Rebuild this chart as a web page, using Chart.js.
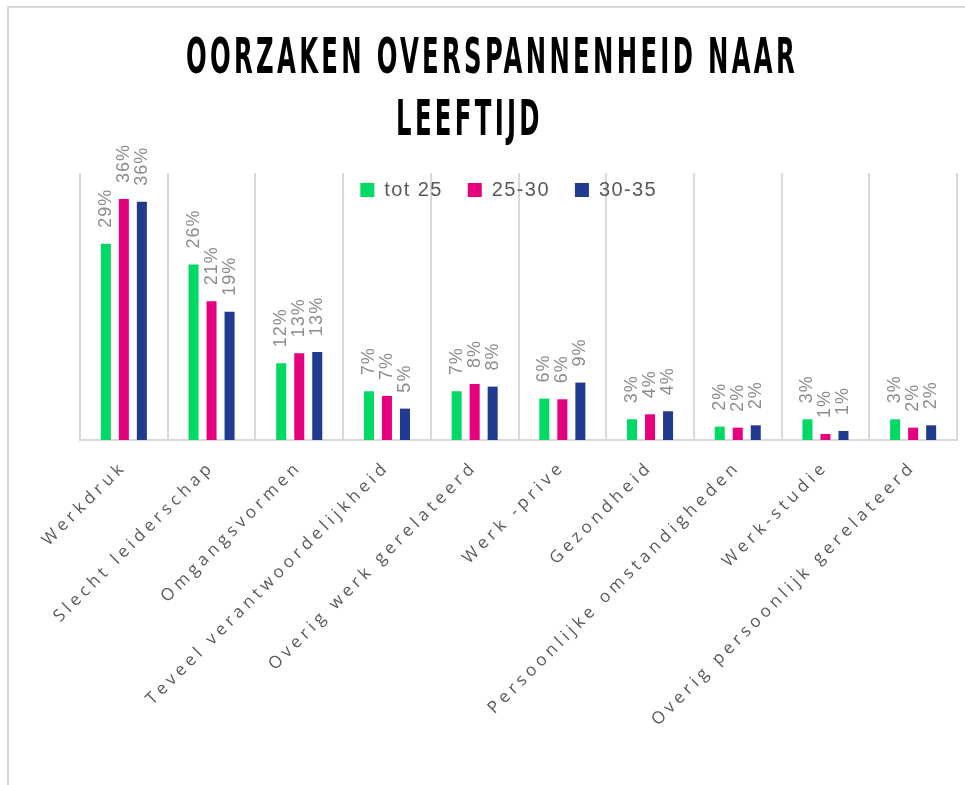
<!DOCTYPE html>
<html>
<head>
<meta charset="utf-8">
<script src="https://cdn.jsdelivr.net/npm/chart.js@4.4.0/dist/chart.umd.min.js"></script>
<style>
html, body { margin: 0; padding: 0; background: #fff; overflow: hidden; }
#frame { position: absolute; left: 7px; top: 6px; width: 980px; height: 800px;
         border-left: 2px solid #d9d9d9; border-top: 2px solid #d9d9d9; }
#wrap { position: absolute; left: 0; top: 0; width: 965px; height: 785px; }
</style>
</head>
<body>
<div id="frame"></div>
<div id="wrap"><canvas id="chart"></canvas></div>
<script>
const categories = ['Werkdruk', 'Slecht leiderschap', 'Omgangsvormen', 'Teveel verantwoordelijkheid',
  'Overig werk gerelateerd', 'Werk -prive', 'Gezondheid', 'Persoonlijke omstandigheden',
  'Werk-studie', 'Overig persoonlijk gerelateerd'];
const seriesNames = ['tot 25', '25-30', '30-35'];
// percentages
const tot25 = [29.4, 26.3, 11.5, 7.3, 7.3, 6.2, 3.1, 2.0, 3.1, 3.1];
const age2530 = [36.1, 20.8, 13.0, 6.6, 8.4, 6.1, 3.85, 1.85, 0.9, 1.85];
const age3035 = [35.7, 19.2, 13.2, 4.7, 8.0, 8.6, 4.3, 2.2, 1.35, 2.2];
const colors = ['#00D963', '#E6007E', '#1F3A8E'];
const titleLines = ['OORZAKEN OVERSPANNENHEID NAAR', 'LEEFTIJD'];

// legend sits inside the plot, labels above bars, custom title
const extras = {
  id: 'extras',
  beforeLayout(chart) {
    const lg = chart.legend;
    if (lg && !lg._noSpace) {
      const fit = lg.fit;
      lg.fit = function () { fit.call(this); this._realHeight = this.height; this.height = 0; };
      lg._noSpace = true;
    }
  },
  afterLayout(chart) {
    const lg = chart.legend;
    lg.top = 155;
    lg.bottom = lg.top + (lg._realHeight || 0);
    lg.left -= 21;
    lg.right -= 21;
  },
  beforeDraw(chart) {
    chart.ctx.letterSpacing = '1.4px'; // legend text
  },
  afterDatasetsDraw(chart) {
    const ctx = chart.ctx;
    ctx.save();
    ctx.font = '18px "Liberation Sans", Arial, sans-serif';
    ctx.fillStyle = '#8c8c8c';
    ctx.letterSpacing = '1px';
    ctx.textAlign = 'left';
    ctx.textBaseline = 'middle';
    chart.data.datasets.forEach((ds, di) => {
      chart.getDatasetMeta(di).data.forEach((bar, i) => {
        ctx.save();
        ctx.translate(bar.x, bar.y - 16);
        ctx.rotate(-Math.PI / 2);
        ctx.fillText(Math.round(ds.data[i]) + '%', 0, 0);
        ctx.restore();
      });
    });
    ctx.restore();
    ctx.letterSpacing = '4.2px'; // x tick labels are drawn next (ticks.z = 1)
  },
  afterDraw(chart) {
    const ctx = chart.ctx;
    ctx.save();
    ctx.font = 'bold 49px "Liberation Sans Narrow", "DejaVu Sans Condensed", sans-serif';
    ctx.letterSpacing = '6px';
    ctx.fillStyle = '#000';
    ctx.textAlign = 'center';
    ctx.textBaseline = 'alphabetic';
    const sx = 612 / ctx.measureText(titleLines[0]).width;
    ctx.save();
    ctx.translate(492, 73);
    ctx.scale(sx, 1);
    ctx.fillText(titleLines[0], 0, 0);
    ctx.restore();
    ctx.save();
    ctx.translate(469.5, 135);
    ctx.scale(sx, 1);
    ctx.fillText(titleLines[1], 0, 0);
    ctx.restore();
    ctx.restore();
    ctx.letterSpacing = '0px';
  }
};

new Chart(document.getElementById('chart'), {
  type: 'bar',
  data: {
    labels: categories,
    datasets: [
      { label: seriesNames[0], data: tot25, backgroundColor: colors[0] },
      { label: seriesNames[1], data: age2530, backgroundColor: colors[1] },
      { label: seriesNames[2], data: age3035, backgroundColor: colors[2] }
    ]
  },
  options: {
    responsive: true,
    maintainAspectRatio: false,
    animation: false,
    layout: { padding: { left: 80, right: 8, top: 173, bottom: 0 } },
    datasets: { bar: { categoryPercentage: 0.616, barPercentage: 0.556 } },
    plugins: {
      legend: {
        position: 'top',
        fullSize: false,
        align: 'center',
        labels: {
          boxWidth: 14,
          boxHeight: 14,
          padding: 25,
          color: '#595959',
          font: { family: '"Liberation Sans", Arial, sans-serif', size: 20 }
        }
      },
      tooltip: { enabled: false }
    },
    scales: {
      x: {
        grid: { color: '#d9d9d9', lineWidth: 2, drawTicks: false, offset: true },
        border: { color: '#d9d9d9', width: 2 },
        ticks: {
          z: 1,
          autoSkip: false,
          minRotation: 45,
          maxRotation: 45,
          padding: 17,
          color: '#595959',
          font: { family: '"Open Sans", sans-serif', size: 17 }
        },
        afterFit(scale) { scale.height = 345; }
      },
      y: { display: false, min: 0, max: 40 }
    }
  },
  plugins: [extras]
});
</script>
</body>
</html>
